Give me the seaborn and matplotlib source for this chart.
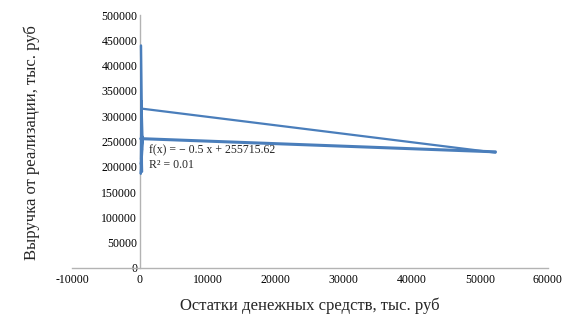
import numpy as np
import pandas as pd
import matplotlib
matplotlib.use("Agg")
import matplotlib.pyplot as plt
import seaborn as sns

# Data
cash = [200, 150, 300, 180, 120, 400, 220, 160, 350, 140, 300, 190, 250, 52300]
revenue = [250000, 440000, 190000, 300000, 186000, 245000, 330000, 215000,
           260000, 205000, 235000, 240000, 315000, 228000]
trend_slope = -0.5
trend_intercept = 255715.62
r_squared = 0.01
x_ticks = [-10000, 0, 10000, 20000, 30000, 40000, 50000, 60000]
y_ticks = [0, 50000, 100000, 150000, 200000, 250000, 300000, 350000, 400000, 450000, 500000]
x_label = "Остатки денежных средств, тыс. руб"
y_label = "Выручка от реализации, тыс. руб"

sns.set_style("white")
plt.rcParams['font.family'] = ['Liberation Serif', 'DejaVu Serif']

color = "#4a7ebb"
df = pd.DataFrame({"cash": cash, "revenue": revenue})

fig = plt.figure(figsize=(5.76, 3.36), dpi=100)
ax = fig.add_axes([0.125, 0.2024, 0.826, 0.7529])

sns.lineplot(data=df, x="cash", y="revenue", sort=False, estimator=None,
             color=color, linewidth=1.6, ax=ax, zorder=5)

tx = np.array([min(cash), max(cash)])
tdf = pd.DataFrame({"x": tx, "y": trend_slope * tx + trend_intercept})
sns.lineplot(data=tdf, x="x", y="y", color=color, linewidth=2.2, ax=ax, zorder=5)

ax.set_xlim(-10000, 60000)
ax.set_ylim(0, 500000)
ax.set_xticks(x_ticks)
ax.set_yticks(y_ticks)
ax.set_xticklabels([str(v) for v in x_ticks])
ax.set_yticklabels([str(v) for v in y_ticks])
ax.tick_params(axis="both", length=0, labelsize=8.5, colors="#000000", pad=2)
ax.tick_params(axis="x", pad=4)

for s in ["top", "right"]:
    ax.spines[s].set_visible(False)
ax.spines["left"].set_position(("data", 0))
ax.spines["bottom"].set_position(("data", 0))
for s in ["left", "bottom"]:
    ax.spines[s].set_color("#b3b3b3")
    ax.spines[s].set_linewidth(1)
    ax.spines[s].set_zorder(1)

ax.set_xlabel("")
ax.set_ylabel("")
ax.grid(False)

ax.text(1300, 245000, f"f(x) = − {abs(trend_slope)} x + {trend_intercept:.2f}\nR² = {r_squared:.2f}",
        fontsize=8.5, va="top", ha="left", linespacing=1.3, zorder=6)

fig.text(310 / 576, 1 - 306 / 336, x_label, ha="center", va="center", fontsize=12)
fig.text(32 / 576, 1 - 143 / 336, y_label, ha="center", va="center", fontsize=12, rotation=90)

fig.savefig("out.png", dpi=100)
